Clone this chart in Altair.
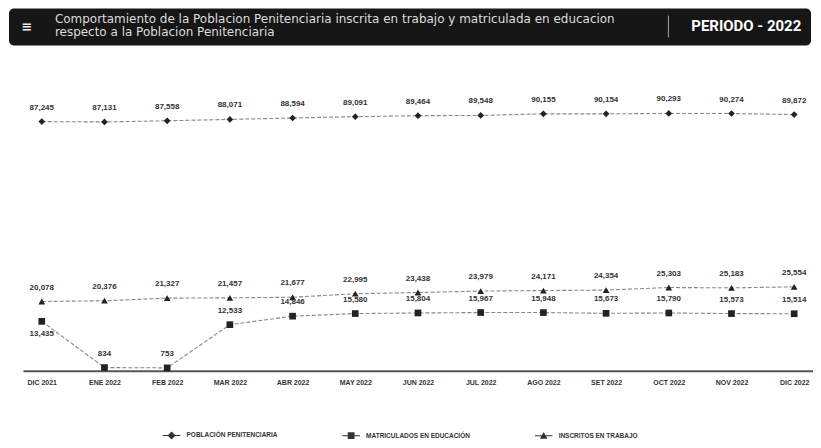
import altair as alt
import pandas as pd

months = ["DIC 2021", "ENE 2022", "FEB 2022", "MAR 2022", "ABR 2022", "MAY 2022",
          "JUN 2022", "JUL 2022", "AGO 2022", "SET 2022", "OCT 2022", "NOV 2022", "DIC 2022"]
poblacion = [87245, 87131, 87558, 88071, 88594, 89091, 89464, 89548, 90155, 90154, 90293, 90274, 89872]
matriculados = [13435, 834, 753, 12533, 14846, 15580, 15804, 15967, 15948, 15673, 15790, 15573, 15514]
inscritos = [20078, 20376, 21327, 21457, 21677, 22995, 23438, 23979, 24171, 24354, 25303, 25183, 25554]
series_names = ["POBLACIÓN PENITENCIARIA", "MATRICULADOS EN EDUCACIÓN", "INSCRITOS EN TRABAJO"]
label_below = [("MATRICULADOS EN EDUCACIÓN", "DIC 2021")]

title_line1 = "Comportamiento de la Poblacion Penitenciaria inscrita en trabajo y matriculada en educacion"
title_line2 = "respecto a la Poblacion Penitenciaria"
periodo = "PERIODO - 2022"

rows = []
for name, vals in zip(series_names, [poblacion, matriculados, inscritos]):
    for m, v in zip(months, vals):
        rows.append({"mes": m, "valor": v, "serie": name, "below": (name, m) in label_below})
df = pd.DataFrame(rows)
one = pd.DataFrame({"k": [0]})

W, H = 792, 311
FONT = "Liberation Sans"

base = alt.Chart(df).encode(
    x=alt.X("mes:N", sort=months,
            scale=alt.Scale(type="point", padding=0.3),
            axis=alt.Axis(title=None, labelAngle=0, ticks=False, labelFontSize=7,
                          labelFontWeight="bold", labelColor="#333", labelFont=FONT,
                          domainColor="#555", domainWidth=2, labelPadding=8, grid=False)),
    y=alt.Y("valor:Q",
            scale=alt.Scale(domain=[0, 15500, 88500], range=[311, 254, 58], nice=False, zero=False),
            axis=None),
)

lines = base.mark_line(color="#888", strokeWidth=1.1, strokeDash=[4, 2]).encode(detail="serie:N")

points = base.mark_point(filled=True, opacity=1, color="#222", size=45).encode(
    shape=alt.Shape("serie:N", scale=alt.Scale(domain=series_names,
                                               range=["diamond", "square", "triangle-up"]),
                    legend=None)
)

labels_above = base.transform_filter("!datum.below").mark_text(
    dy=-14, fontSize=8, fontWeight="bold", color="#333", font=FONT
).encode(text=alt.Text("valor:Q", format=","))

labels_below = base.transform_filter("datum.below").mark_text(
    dy=13, fontSize=8, fontWeight="bold", color="#333", font=FONT
).encode(text=alt.Text("valor:Q", format=","))

bar_line = "M-2.2,-0.12H2.2V0.12H-2.2Z "
legend_paths = [
    bar_line + "M0,-1L1,0L0,1L-1,0Z",
    bar_line + "M-0.85,-0.85H0.85V0.85H-0.85Z",
    bar_line + "M0,-0.95L0.95,0.75H-0.95Z",
]

legend_layer = alt.Chart(df).transform_filter("false").mark_point(
    filled=True, opacity=1, color="#333"
).encode(
    shape=alt.Shape("serie:N",
                    scale=alt.Scale(domain=series_names, range=legend_paths),
                    legend=alt.Legend(orient="none", legendX=145, legendY=372,
                                      direction="horizontal", title=None, symbolSize=64,
                                      symbolStrokeWidth=0, symbolFillColor="#333",
                                      labelFontSize=6.5, labelFont=FONT, labelFontWeight="bold",
                                      labelColor="#333", labelOffset=11, columnPadding=64))
)

header = alt.Chart(one).mark_rect(color="#161616", cornerRadius=5).encode(
    x=alt.value(-14), x2=alt.value(790), y=alt.value(-52), y2=alt.value(-15)
)
icon = alt.Chart(one).mark_text(color="#eee", fontSize=13, fontWeight="bold",
                                 align="center", baseline="middle", font="DejaVu Sans").encode(
    x=alt.value(4), y=alt.value(-33), text=alt.value("≡")
)
t1 = alt.Chart(one).mark_text(color="#ddd", fontSize=12, align="left", baseline="middle",
                               font="DejaVu Sans").encode(
    x=alt.value(32), y=alt.value(-41.5), text=alt.value(title_line1)
)
t2 = alt.Chart(one).mark_text(color="#ddd", fontSize=12, align="left", baseline="middle",
                               font="DejaVu Sans").encode(
    x=alt.value(32), y=alt.value(-28), text=alt.value(title_line2)
)
sep = alt.Chart(one).mark_rule(color="#aaa", strokeWidth=1).encode(
    x=alt.value(647), y=alt.value(-45), y2=alt.value(-23)
)
per = alt.Chart(one).mark_text(color="#fff", fontSize=15, fontWeight="bold", align="left",
                                baseline="middle", font="Roboto").encode(
    x=alt.value(670), y=alt.value(-34), text=alt.value(periodo)
)

chart = alt.layer(
    header, icon, t1, t2, sep, per,
    lines, points, labels_above, labels_below, legend_layer
).resolve_scale(shape="independent").resolve_legend(shape="independent").properties(
    width=W, height=H,
    padding={"left": 15, "top": 52, "right": 0, "bottom": 69},
    autosize=alt.AutoSizeParams(type="none"),
    background="white",
).configure_view(stroke=None)

chart.save("out.html", embed_options={"renderer": "svg", "actions": False})
